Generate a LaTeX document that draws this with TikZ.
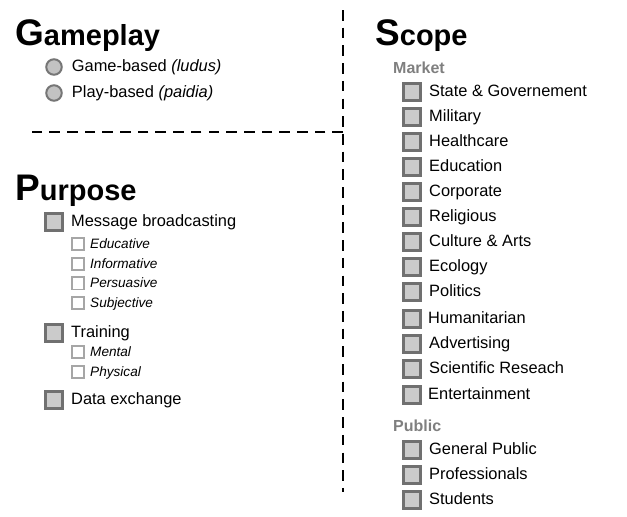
\documentclass[tikz,border=0pt]{standalone}
\usepackage{fontspec}
\setmainfont{Liberation Sans}
\usepackage{xcolor}
\usetikzlibrary{positioning}
\definecolor{boxfill}{HTML}{CBCBCB}
\definecolor{boxline}{HTML}{707070}
\definecolor{subline}{HTML}{A6A6A6}
\definecolor{dotfill}{HTML}{C2C2C2}
\definecolor{dotline}{HTML}{767676}
\definecolor{grouptxt}{HTML}{7F7F7F}
\newcommand{\bigletter}[1]{{\fontsize{37}{40}\selectfont #1}}

\begin{document}
\begin{tikzpicture}[x=1pt,y=-1pt,
    node distance=5pt and 7pt,
    chk/.style={rectangle,draw=boxline,fill=boxfill,line width=2.6pt,minimum size=17.4pt,inner sep=0pt},
    subchk/.style={rectangle,draw=subline,fill=white,line width=1.8pt,minimum size=12.2pt,inner sep=0pt},
    dot/.style={circle,draw=dotline,fill=dotfill,line width=2pt,minimum size=15.5pt,inner sep=0pt},
    item/.style={anchor=west,inner sep=0pt,yshift=-1.2pt,text height=0.716em,text depth=0pt,font=\fontsize{16.4}{18}\selectfont},
    subitem/.style={anchor=west,inner sep=0pt,yshift=-1pt,text height=0.716em,text depth=0pt,font=\fontsize{13.6}{15}\selectfont\itshape},
    group/.style={anchor=west,inner sep=0pt,text height=0.716em,text depth=0pt,text=grouptxt,font=\fontsize{16}{18}\selectfont\bfseries},
    title/.style={anchor=base west,inner sep=0pt,font=\fontsize{29}{32}\selectfont\bfseries},
    divider/.style={line width=2.6pt,dash pattern=on 10.6pt off 7.1pt}]
    \useasboundingbox (0,0) rectangle (627,517);
    % dividers
    \coordinate (vtop) at (343,10);
    \coordinate (vbot) at (343,492);
    \coordinate (hjoin) at (343,132);
    \coordinate (hleft) at (32,132);
    \draw[divider] (vtop) -- (vbot);
    \draw[divider] (hjoin) -- (hleft);
    % Gameplay
    \node[title] (gameplay) at (15,45) {\bigletter{G}ameplay};
    \node[dot] (ludus) at (54,67) {};
    \node[item,right=9pt of ludus] (ludustxt) {Game-based \textit{(ludus)}};
    \node[dot] (paidia) at (54,93) {};
    \node[item,right=9pt of paidia] (paidiatxt) {Play-based \textit{(paidia)}};
    % Purpose
    \node[title] (purpose) at (15,200) {\bigletter{P}urpose};
    \node[chk] (msg) at (54,222) {};
    \node[item,right=of msg] (msgtxt) {Message broadcasting};
    \node[subchk] (edu) at (78,244) {};
    \node[subitem,right=5pt of edu] (edutxt) {Educative};
    \node[subchk,below=5.7pt of edu] (info) {};
    \node[subitem,right=5pt of info] (infotxt) {Informative};
    \node[subchk,below=5.7pt of info] (pers) {};
    \node[subitem,right=5pt of pers] (perstxt) {Persuasive};
    \node[subchk,below=5.7pt of pers] (subj) {};
    \node[subitem,right=5pt of subj] (subjtxt) {Subjective};
    \node[chk] (train) at (54,333) {};
    \node[item,right=of train] (traintxt) {Training};
    \node[subchk] (mental) at (78,352) {};
    \node[subitem,right=5pt of mental] (mentaltxt) {Mental};
    \node[subchk,below=5.7pt of mental] (phys) {};
    \node[subitem,right=5pt of phys] (physttxt) {Physical};
    \node[chk] (data) at (54,400) {};
    \node[item,right=of data] (datatxt) {Data exchange};
    % Scope
    \node[title] (scope) at (375,45) {\bigletter{S}cope};
    \node[group] (market) at (393,70) {Market};
    \node[chk] (state) at (412,92) {};
    \node[item,right=of state] (statetxt) {State \& Governement};
    \node[chk,below=of state] (mil) {};
    \node[item,right=of mil] (miltxt) {Military};
    \node[chk,below=of mil] (health) {};
    \node[item,right=of health] (healthtxt) {Healthcare};
    \node[chk,below=of health] (educ) {};
    \node[item,right=of educ] (eductxt) {Education};
    \node[chk,below=of educ] (corp) {};
    \node[item,right=of corp] (corptxt) {Corporate};
    \node[chk,below=of corp] (relig) {};
    \node[item,right=of relig] (religtxt) {Religious};
    \node[chk,below=of relig] (cult) {};
    \node[item,right=of cult] (culttxt) {Culture \& Arts};
    \node[chk,below=of cult] (eco) {};
    \node[item,right=of eco] (ecotxt) {Ecology};
    \node[chk,below=of eco] (pol) {};
    \node[item,right=of pol] (poltxt) {Politics};
    \node[chk,below=7pt of pol] (human) {};
    \node[item,right=6pt of human] (humantxt) {Humanitarian};
    \node[chk,below=of human] (adv) {};
    \node[item,right=of adv] (advtxt) {Advertising};
    \node[chk,below=of adv] (sci) {};
    \node[item,right=of sci] (scitxt) {Scientific Reseach};
    \node[chk,below=6pt of sci] (ent) {};
    \node[item,right=6pt of ent] (enttxt) {Entertainment};
    \node[group] (public) at (393,428) {Public};
    \node[chk] (gen) at (412,450) {};
    \node[item,right=of gen] (gentxt) {General Public};
    \node[chk,below=of gen] (prof) {};
    \node[item,right=of prof] (proftxt) {Professionals};
    \node[chk,below=of prof] (stud) {};
    \node[item,right=of stud] (studtxt) {Students};
\end{tikzpicture}
\end{document}
